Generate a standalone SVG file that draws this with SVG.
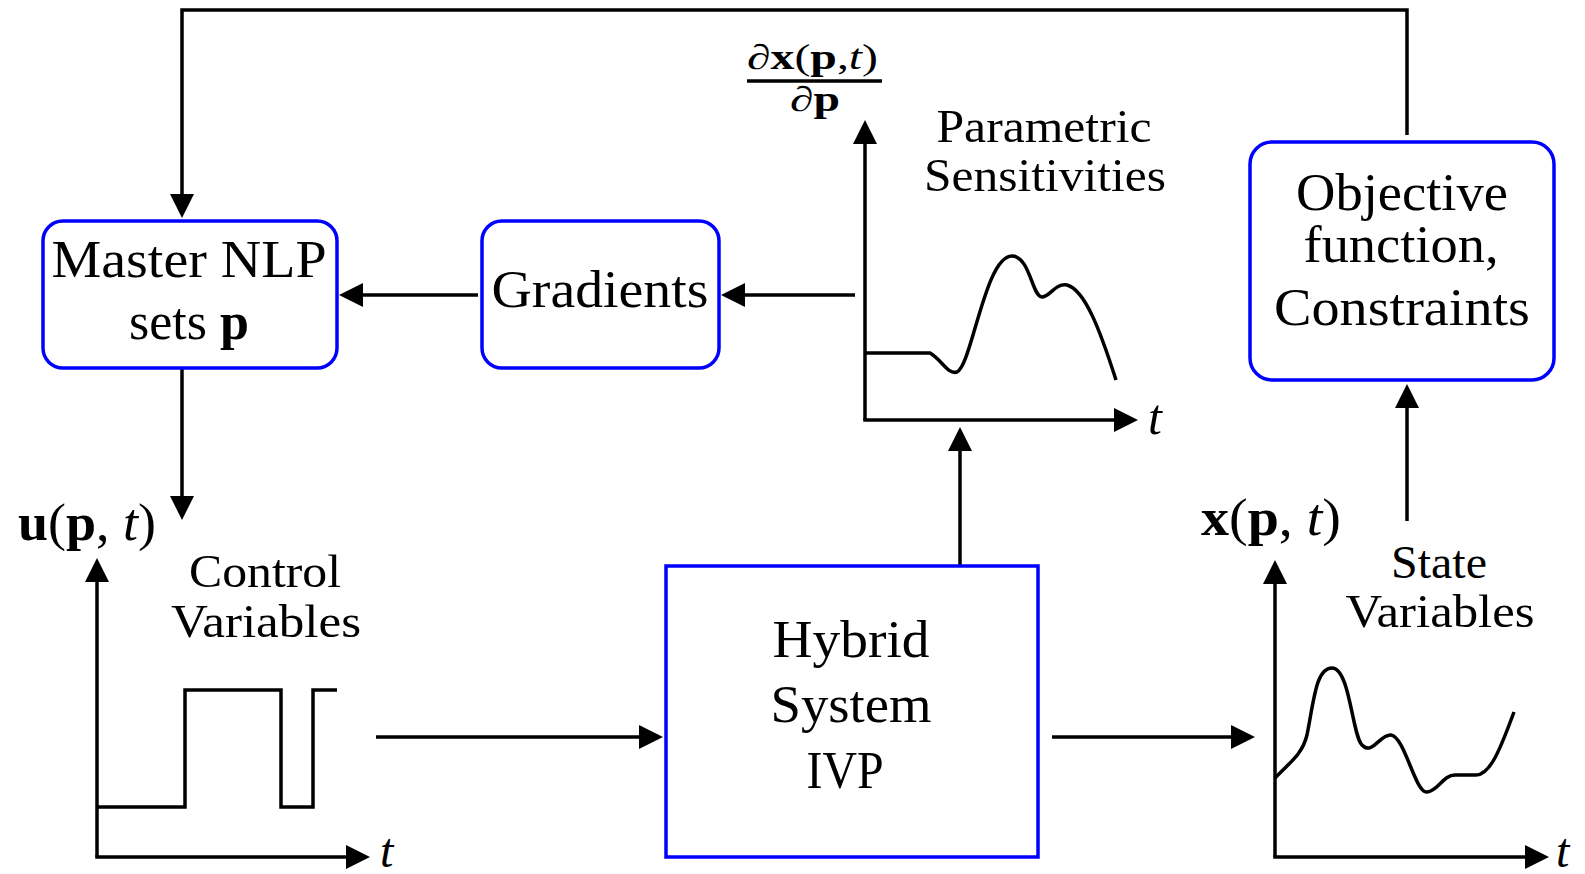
<svg xmlns="http://www.w3.org/2000/svg" width="1585" height="874" viewBox="0 0 1585 874">
<style>
.bg{fill:#ffffff}
.box{fill:#ffffff;stroke:#0000ff;stroke-width:3.5}
.ln{fill:none;stroke:#000000;stroke-width:3.5;stroke-linejoin:miter}
.arr{fill:none;stroke:#000000;stroke-width:3.5;marker-end:url(#ah)}
.t{font-family:"Liberation Serif","Times New Roman",serif;fill:#000000;text-anchor:middle}
.bt{font-size:52px}
.pt{font-size:47px}
.m{font-family:"Liberation Serif","Times New Roman",serif;fill:#000000}
.b{font-weight:bold}
.i{font-style:italic}
</style>
<defs>
<marker id="ah" markerUnits="userSpaceOnUse" markerWidth="24" markerHeight="24" refX="18" refY="12" orient="auto">
<path d="M0,0 L24,12 L0,24 z" fill="#000000"/>
</marker>
</defs>
<rect class="bg" x="0" y="0" width="1585" height="874"/>

<g id="connectors">
<path class="arr" d="M1407,135 V10 H182 V212"/>
<line class="arr" x1="478" y1="295" x2="345" y2="295"/>
<line class="arr" x1="855" y1="295" x2="727" y2="295"/>
<line class="arr" x1="182" y1="368" x2="182" y2="514"/>
<line class="arr" x1="376" y1="737" x2="657" y2="737"/>
<line class="arr" x1="1052" y1="737" x2="1249" y2="737"/>
<line class="arr" x1="960" y1="566" x2="960" y2="433"/>
<line class="arr" x1="1407" y1="521" x2="1407" y2="390"/>
</g>

<g id="master-nlp">
<rect class="box" x="43" y="221" width="294" height="147" rx="20" ry="20"/>
<text class="t bt" x="189" y="277" textLength="275" lengthAdjust="spacingAndGlyphs">Master NLP</text>
<text class="t bt" x="189" y="339">sets <tspan class="b">p</tspan></text>
</g>

<g id="gradients">
<rect class="box" x="482" y="221" width="237" height="147" rx="20" ry="20"/>
<text class="t bt" x="600" y="307" textLength="217" lengthAdjust="spacingAndGlyphs">Gradients</text>
</g>

<g id="objective">
<rect class="box" x="1250" y="142" width="304" height="238" rx="22" ry="22"/>
<text class="t bt" x="1402" y="210" textLength="212" lengthAdjust="spacingAndGlyphs">Objective</text>
<text class="t bt" x="1401" y="262" textLength="195" lengthAdjust="spacingAndGlyphs">function,</text>
<text class="t bt" x="1402" y="325" textLength="256" lengthAdjust="spacingAndGlyphs">Constraints</text>
</g>

<g id="hybrid">
<rect class="box" x="666" y="566" width="372" height="291"/>
<text class="t bt" x="851" y="657" textLength="157" lengthAdjust="spacingAndGlyphs">Hybrid</text>
<text class="t bt" x="851" y="722" textLength="161" lengthAdjust="spacingAndGlyphs">System</text>
<text class="t bt" x="845" y="788" textLength="77" lengthAdjust="spacingAndGlyphs">IVP</text>
</g>

<g id="control-plot">
<line class="arr" x1="97" y1="857" x2="97" y2="564"/>
<line class="arr" x1="95.25" y1="857" x2="364" y2="857"/>
<path class="ln" d="M97,807 H185 V690 H281 V807 H313 V690 H337"/>
<text class="m i" x="380" y="867" font-size="48">t</text>
<text class="m" x="18" y="540" font-size="52" textLength="138" lengthAdjust="spacingAndGlyphs"><tspan class="b">u</tspan>(<tspan class="b">p</tspan>, <tspan class="i">t</tspan>)</text>
<text class="t pt" x="265" y="587" textLength="152" lengthAdjust="spacingAndGlyphs">Control</text>
<text class="t pt" x="266" y="637" textLength="190" lengthAdjust="spacingAndGlyphs">Variables</text>
</g>

<g id="sensitivity-plot">
<line class="arr" x1="865" y1="420" x2="865" y2="126"/>
<line class="arr" x1="863.25" y1="420" x2="1132" y2="420"/>
<path class="ln" d="M865,353 L930,353 C942,360 948,375 957,372 C972,365 985,256 1012,256 C1030,256 1032,297 1042,297 C1050,297 1055,283 1067,285 C1085,290 1100,330 1116,380"/>
<text class="m i" x="1148" y="434" font-size="50">t</text>
<text class="m" x="747" y="69" font-size="35" textLength="131" lengthAdjust="spacingAndGlyphs">∂<tspan class="b">x</tspan>(<tspan class="b">p</tspan>,<tspan class="i">t</tspan>)</text>
<line class="ln" x1="747" y1="81" x2="882" y2="81" stroke-width="3"/>
<text class="m" x="790" y="111" font-size="35" textLength="50" lengthAdjust="spacingAndGlyphs">∂<tspan class="b">p</tspan></text>
<text class="t pt" x="1044" y="142" textLength="215" lengthAdjust="spacingAndGlyphs">Parametric</text>
<text class="t pt" x="1045" y="191" textLength="242" lengthAdjust="spacingAndGlyphs">Sensitivities</text>
</g>

<g id="state-plot">
<line class="arr" x1="1275" y1="857" x2="1275" y2="566"/>
<line class="arr" x1="1273.25" y1="857" x2="1543" y2="857"/>
<path class="ln" d="M1275,778 C1290,762 1302,755 1307,735 C1314,700 1316,668 1332,668 C1350,668 1352,735 1362,745 C1372,756 1380,734 1391,735 C1405,737 1415,793 1427,792 C1438,791 1443,775 1455,775 L1476,775 C1490,775 1500,750 1514,712"/>
<text class="m i" x="1556" y="867" font-size="48">t</text>
<text class="m" x="1201" y="535" font-size="52" textLength="140" lengthAdjust="spacingAndGlyphs"><tspan class="b">x</tspan>(<tspan class="b">p</tspan>, <tspan class="i">t</tspan>)</text>
<text class="t pt" x="1439" y="578" textLength="96" lengthAdjust="spacingAndGlyphs">State</text>
<text class="t pt" x="1440" y="627" textLength="189" lengthAdjust="spacingAndGlyphs">Variables</text>
</g>
</svg>
